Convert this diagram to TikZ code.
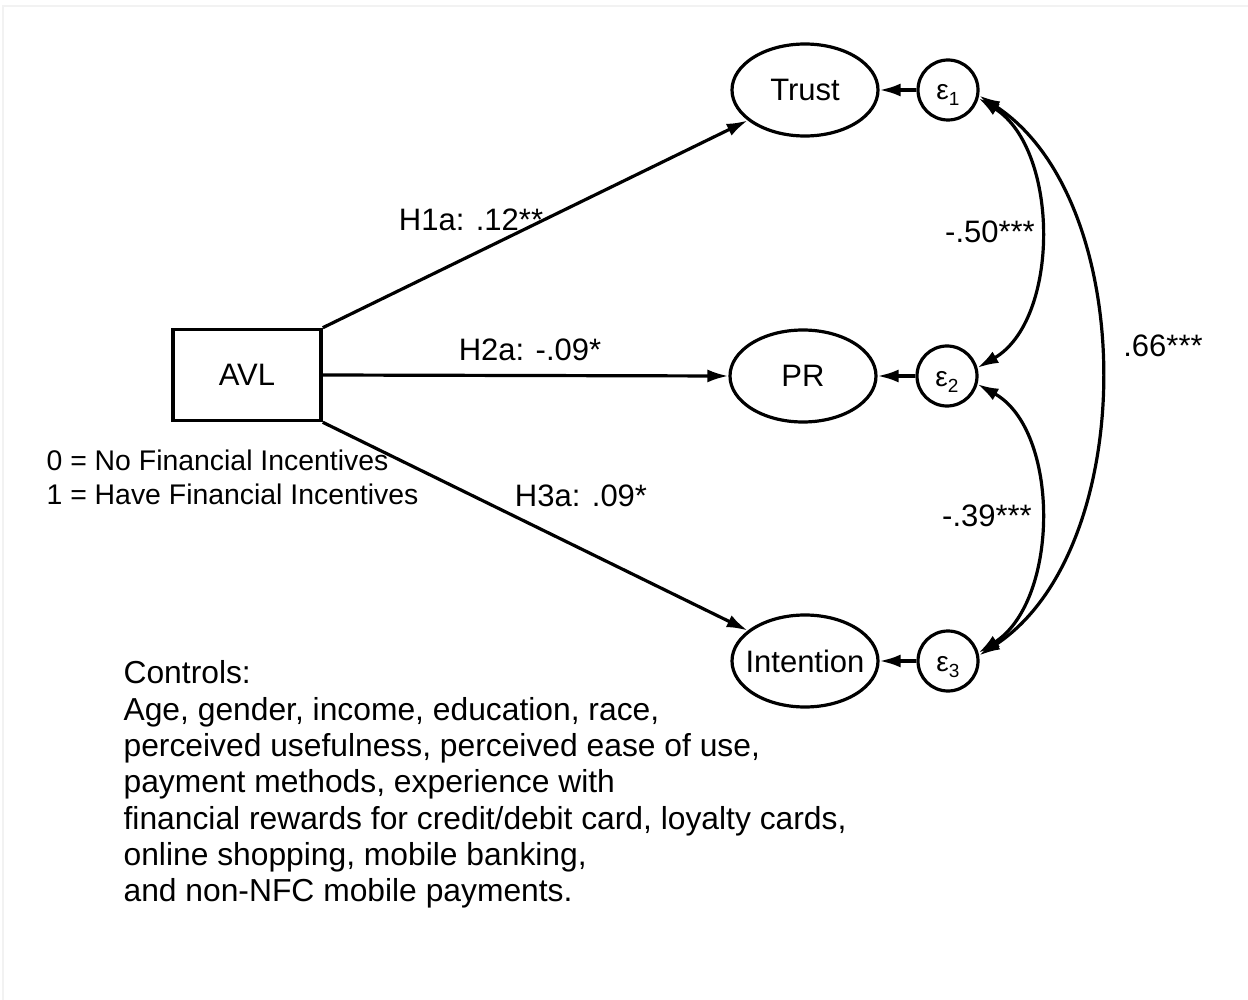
\documentclass[tikz,border=0pt]{standalone}
\usepackage{fontspec}
\setmainfont{Liberation Sans}
\usetikzlibrary{arrows.meta,shapes.geometric}

\begin{document}
\begin{tikzpicture}[x=1pt,y=-1pt,line width=3.2pt,
  lat/.style={draw,ellipse,minimum width=146pt,minimum height=92pt,inner sep=0pt,
    font=\fontsize{31}{31}\selectfont},
  err/.style={draw,circle,minimum size=60pt,inner sep=0pt,text height=20pt,text depth=0pt,
    font=\fontsize{28}{28}\selectfont},
  obs/.style={draw,rectangle,minimum width=148pt,minimum height=91pt,line width=3.6pt,
    inner sep=0pt,font=\fontsize{31}{31}\selectfont},
  path/.style={-{Latex[length=21pt,width=13pt]}},
  cov/.style={{Latex[length=21pt,width=13pt]}-{Latex[length=21pt,width=13pt]}},
  lab/.style={anchor=base,inner sep=0pt,font=\fontsize{31}{31}\selectfont},
  note/.style={anchor=base west,inner sep=0pt,font=\fontsize{28.4}{28.4}\selectfont},
  ctrl/.style={anchor=base west,inner sep=0pt,font=\fontsize{31.8}{31.8}\selectfont},
]
\newcommand\errsub[1]{ε\raisebox{-6pt}{\fontsize{19}{19}\selectfont #1}}
\useasboundingbox (0,0) rectangle (1248,1000);
% faint frame
\draw[black!5,line width=1.5pt] (3,1000) -- (3,6) -- (1248,6);

% observed predictor
\node[obs] (avl) at (247,375) {AVL};

% latent outcomes
\node[lat] (trust) at (805,90) {Trust};
\node[lat] (pr) at (803,376) {PR};
\node[lat,inner xsep=-9pt] (int) at (805,661) {Intention};

% error terms
\node[err] (e1) at (948,90) {\errsub{1}};
\node[err] (e2) at (947,376) {\errsub{2}};
\node[err] (e3) at (948,661) {\errsub{3}};

% structural paths
\draw[path] (avl.north east) -- (trust.-152);
\draw[path] (avl.east) -- (pr.west);
\draw[path] (avl.south east) -- (int.152);

\draw[path] (e1) -- (trust);
\draw[path] (e2) -- (pr);
\draw[path] (e3) -- (int);

% residual covariances
\draw[cov] (e1.-15) .. controls (1060,150) and (1060,320) .. (e2.15);
\draw[cov] (e2.-15) .. controls (1060,430) and (1060,600) .. (e3.15);
\draw[cov] (e1.-10) .. controls (1140,200) and (1140,550) .. (e3.10);

% path labels
\node[lab] (l1) at (471,231) {H1a: .12**};
\node[lab] (l2) at (530,361) {H2a: -.09*};
\node[lab] (l3) at (581,506) {H3a: .09*};
\node[lab] (c12) at (990,243) {-.50***};
\node[lab] (c23) at (987,526) {-.39***};
\node[lab] (c13) at (1163,356) {.66***};

% coding of the predictor
\node[note] (n0) at (45,470) {0 = No Financial Incentives};
\node[note] (n1) at (45,504) {1 = Have Financial Incentives};

% control variables
\node[ctrl] (k1) at (122,683) {Controls:};
\node[ctrl] (k2) at (122,720) {Age, gender, income, education, race,};
\node[ctrl] (k3) at (122,756) {perceived usefulness, perceived ease of use,};
\node[ctrl] (k4) at (122,792) {payment methods, experience with};
\node[ctrl] (k5) at (122,829) {financial rewards for credit/debit card, loyalty cards,};
\node[ctrl] (k6) at (122,865) {online shopping, mobile banking,};
\node[ctrl] (k7) at (122,901) {and non-NFC mobile payments.};
\end{tikzpicture}
\end{document}
